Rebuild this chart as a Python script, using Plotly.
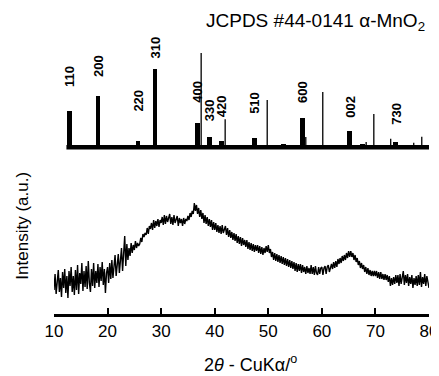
import numpy as np
import plotly.graph_objects as go

# ---------------- data ----------------
# measured XRD pattern, 2theta from 10 to 80 deg, step 0.2 deg (intensity, a.u.)
two_theta_start, two_theta_step = 10.0, 0.2
intensity = [
    10, 26, 6, 24, 30, 8, 22, 3, 28, 12,
    31, 7, 24, 2, 29, 14, 33, 8, 24, 5,
    30, 10, 35, 6, 27, 16, 37, 9, 29, 13,
    34, 11, 39, 17, 8, 31, 14, 37, 12, 29,
    17, 36, 13, 33, 19, 38, 15, 31, 7, 27,
    33, 17, 37, 21, 40, 22, 35, 45, 24, 39,
    46, 27, 42, 52, 29, 49, 64, 34, 56, 40,
    52, 44, 57, 47, 55, 50, 59, 52, 57, 54,
    56, 62, 58, 66, 63, 67, 65, 72, 66, 74,
    71, 77, 70, 80, 72, 79, 74, 81, 73, 80,
    77, 83, 75, 85, 76, 84, 78, 82, 86, 76,
    83, 75, 85, 77, 80, 84, 74, 82, 77, 81,
    74, 82, 76, 81, 79, 84, 80, 87, 83, 89,
    86, 97, 89, 95, 86, 92, 83, 90, 81, 87,
    77, 85, 76, 83, 74, 81, 73, 80, 70, 78,
    70, 77, 68, 75, 67, 74, 66, 75, 67, 72,
    74, 65, 72, 63, 70, 62, 68, 60, 67, 59,
    66, 57, 64, 56, 63, 54, 62, 55, 60, 53,
    60, 51, 58, 50, 57, 49, 56, 48, 55, 49,
    55, 47, 54, 46, 53, 45, 52, 47, 54, 48,
    55, 47, 51, 43, 48, 40, 47, 39, 46, 38,
    45, 37, 44, 36, 43, 35, 42, 34, 41, 33,
    40, 32, 39, 31, 38, 29, 37, 28, 36, 29,
    36, 27, 35, 28, 33, 26, 34, 27, 32, 26,
    35, 26, 33, 25, 34, 27, 25, 33, 26, 32,
    33, 25, 32, 34, 26, 33, 35, 28, 34, 36,
    31, 38, 32, 39, 33, 41, 36, 42, 37, 44,
    39, 45, 40, 47, 42, 49, 43, 49, 43, 47,
    40, 45, 38, 42, 35, 39, 32, 37, 31, 35,
    28, 33, 26, 32, 25, 30, 24, 29, 24, 29,
    24, 29, 22, 28, 21, 28, 21, 26, 20, 26,
    20, 25, 18, 24, 14, 22, 15, 23, 16, 25,
    17, 25, 14, 26, 16, 24, 29, 15, 25, 17,
    26, 14, 23, 16, 25, 12, 22, 15, 24, 14,
    25, 15, 28, 13, 23, 16, 26, 14, 24, 18,
    12,
]

# JCPDS #44-0141 reference lines: labelled / strong (thick) lines
ref_pos = [12.87, 18.2, 25.7, 28.86, 36.76, 38.96, 41.2, 47.4, 52.8, 56.4, 65.2, 67.65, 73.8]
ref_int = [36.3, 51.3, 6.3, 78.3, 24.3, 10.6, 6.3, 9.6, 3.6, 29.3, 16.6, 3.6, 5.3]
ref_hkl = ["110", "200", "220", "310", "400", "330", "420", "510", "", "600", "002", "", "730"]
label_h = [70.8, 81.3, 46.8, 99.8, 56, 37.3, 41.3, 44.8, None, 55, 40.3, None, 33.3]

# other reference lines (thin)
ref2_pos = [37.47, 41.95, 49.8, 57.0, 60.17, 68.27, 69.7, 72.85, 77.15, 78.65]
ref2_int = [94.3, 28, 47.3, 10.3, 55.3, 5.3, 33.3, 8.6, 4.6, 10.6]

x_ticks = [10, 20, 30, 40, 50, 60, 70, 80]

# ---------------- figure ----------------
FONT = "Liberation Sans, Arial, sans-serif"
two_theta = two_theta_start + two_theta_step * np.arange(len(intensity))

fig = go.Figure()

# measured curve
fig.add_trace(go.Scatter(x=two_theta, y=intensity, mode="lines",
                         line=dict(color="black", width=1.4),
                         xaxis="x", yaxis="y", showlegend=False, hoverinfo="skip"))

# thick reference bars
fig.add_trace(go.Bar(x=ref_pos, y=ref_int, width=0.88, marker=dict(color="black", line=dict(width=0)),
                     xaxis="x", yaxis="y2", showlegend=False, hoverinfo="skip"))

# thin reference lines
tx, ty = [], []
for p, h in zip(ref2_pos, ref2_int):
    tx += [p, p, None]
    ty += [0, h, None]
fig.add_trace(go.Scatter(x=tx, y=ty, mode="lines", line=dict(color="black", width=1.3),
                         xaxis="x", yaxis="y2", showlegend=False, hoverinfo="skip"))

# baseline of the reference pattern
x0 = min(ref_pos) - 0.55
fig.add_trace(go.Scatter(x=[x0, 80.4], y=[0, 0], mode="lines", line=dict(color="black", width=4.5),
                         xaxis="x", yaxis="y2", showlegend=False, hoverinfo="skip"))

# hkl labels
for p, lab, lh in zip(ref_pos, ref_hkl, label_h):
    if lab:
        fig.add_annotation(x=p, y=lh, xref="x", yref="y2", text="<b>%s</b>" % lab,
                           textangle=-90, showarrow=False, xanchor="center", yanchor="middle",
                           font=dict(family=FONT, size=13, color="black"))

fig.add_annotation(x=0.9955, y=0.954, xref="paper", yref="paper", xanchor="right", yanchor="middle",
                   text="JCPDS #44-0141 α-MnO<sub>2</sub>", showarrow=False,
                   font=dict(family=FONT, size=19, color="black"))

fig.add_annotation(x=0.525, y=-0.163, xref="paper", yref="paper", xanchor="center", yanchor="middle",
                   text="2<i>θ</i> - CuKα/<sup>o</sup>", showarrow=False,
                   font=dict(family=FONT, size=18, color="black"))

fig.add_annotation(x=-0.0836, y=0.2876, xref="paper", yref="paper", xanchor="center", yanchor="middle",
                   text="Intensity (a.u.)", textangle=-90, showarrow=False,
                   font=dict(family=FONT, size=17, color="black"))

fig.update_layout(
    width=431, height=368,
    margin=dict(l=46.3, r=10.3, t=0, b=62),
    paper_bgcolor="white", plot_bgcolor="white",
    bargap=0,
    xaxis=dict(range=[10, 80], tickvals=x_ticks, ticktext=[str(v) for v in x_ticks],
               ticks="inside", ticklen=6, tickwidth=1.5, tickcolor="black",
               showline=True, linewidth=3, linecolor="black",
               showgrid=False, zeroline=False, anchor="y",
               ticklabeloverflow="allow",
               tickfont=dict(family=FONT, size=17, color="black")),
    yaxis=dict(domain=[0, 0.5033], range=[-14, 140], visible=False, showgrid=False, zeroline=False),
    yaxis2=dict(domain=[0.5359, 1], range=[-2.7, 139.3], visible=False, showgrid=False,
                zeroline=False, anchor="x"),
)

fig.write_html("out.html")
